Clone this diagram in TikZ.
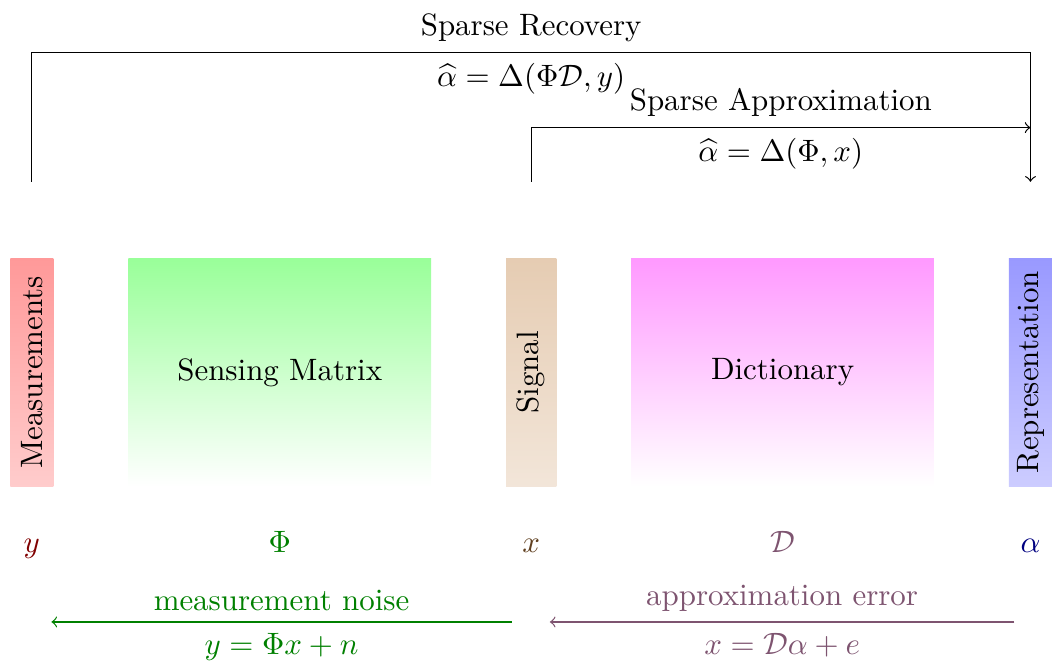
\documentclass[tikz,border=0pt]{standalone}
\usepackage{graphicx}
\usepackage{amsmath}
\usetikzlibrary{positioning,calc}
\definecolor{errcol}{HTML}{7E5470}

\begin{document}
\begin{tikzpicture}[
  node distance=0.838cm,
  thinbox/.style={minimum width=0.49cm, minimum height=2.59cm, inner sep=0pt},
  widebox/.style={minimum width=3.44cm, minimum height=2.59cm, inner sep=0pt},
]
\useasboundingbox (0,0) rectangle (11.955,7.545);

\node[thinbox, top color=red!40, bottom color=red!20, anchor=south west] (meas) at (0.11,2.011) {\rotatebox{90}{Measurements}};
\node[widebox, top color=green!40, bottom color=white, right=of meas] (sensing) {Sensing Matrix};
\node[thinbox, minimum width=0.57cm, top color=brown!40, bottom color=brown!20, right=of sensing] (signal) {\rotatebox{90}{Signal}};
\node[widebox, top color=magenta!40, bottom color=white, right=of signal] (dict) {Dictionary};
\node[thinbox, top color=blue!40, bottom color=blue!20, right=of dict] (repr) {\rotatebox{90}{Representation}};

% symbols under the boxes
\node[below=0.74cm of meas.south, anchor=base, text=red!50!black] (ylbl) {$y$};
\node[below=0.74cm of sensing.south, anchor=base, text=green!50!black] (philbl) {$\Phi$};
\node[below=0.74cm of signal.south, anchor=base, text=brown!50!black] (xlbl) {$x$};
\node[below=0.74cm of dict.south, anchor=base, text=errcol] (dlbl) {$\mathcal{D}$};
\node[below=0.74cm of repr.south, anchor=base, text=blue!50!black] (alphalbl) {$\alpha$};

% end points of the connectors
\path (meas.north) ++(0,0.864) coordinate (recStart);
\path (repr.north) ++(0,2.33) coordinate (recCorner);
\path (repr.north) ++(0,0.864) coordinate (recEnd);
\path (signal.north) ++(0,0.864) coordinate (apxStart);
\path (repr.north) ++(0,1.48) coordinate (apxEnd);
\path (signal.south west) ++(0.07,-1.534) coordinate (noiseA);
\path (meas.south east) ++(-0.03,-1.534) coordinate (noiseB);
\path (repr.south west) ++(0.07,-1.534) coordinate (errA);
\path (signal.south east) ++(-0.08,-1.534) coordinate (errB);

\draw[->] (recStart) |- node[pos=0.75, above] {Sparse Recovery}
  node[pos=0.75, below] {$\widehat{\alpha} = \Delta(\Phi\mathcal{D}, y)$} (recCorner) -- (recEnd);
\draw[->] (apxStart) |- node[pos=0.75, above] {Sparse Approximation}
  node[pos=0.75, below] {$\widehat{\alpha} = \Delta(\Phi, x)$} (apxEnd);

\draw[->, green!50!black] (noiseA) -- node[above] {measurement noise}
  node[below] {$y = \Phi x + n$} (noiseB);
\draw[->, errcol] (errA) -- node[above] {approximation error}
  node[below] {$x = \mathcal{D}\alpha + e$} (errB);

\end{tikzpicture}
\end{document}
